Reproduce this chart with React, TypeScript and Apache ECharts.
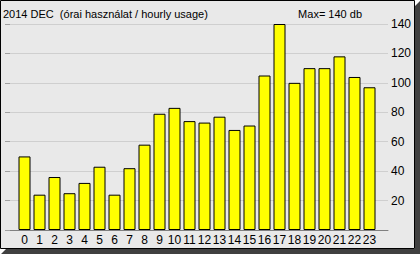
import React, { useEffect, useRef } from "react";
import * as echarts from "echarts";

const hours = ["0","1","2","3","4","5","6","7","8","9","10","11","12","13","14","15","16","17","18","19","20","21","22","23"];
const usage = [50, 24, 36, 25, 32, 43, 24, 42, 58, 79, 83, 74, 73, 77, 68, 71, 105, 140, 100, 110, 110, 118, 104, 97];
const titleText = "2014 DEC  (órai használat / hourly usage)";
const maxText = "Max= 140 db";
const yTicks = [20, 40, 60, 80, 100, 120, 140];

const FONT = "Liberation Sans, Arial, sans-serif";

export default function App() {
  const ref = useRef<HTMLDivElement>(null);
  useEffect(() => {
    if (!ref.current) return;
    const chart = echarts.init(ref.current, null, { renderer: "svg" });
    chart.setOption({
      animation: false,
      backgroundColor: "#ffffff",
      textStyle: { fontFamily: FONT },
      graphic: [
        {
          type: "polygon",
          z: -20,
          silent: true,
          shape: { points: [[415, 6], [420, 1], [420, 254], [1, 254], [6, 249], [415, 249]] },
          style: { fill: "#404040" },
        },
        {
          type: "rect",
          z: -10,
          silent: true,
          shape: { x: 0.5, y: 0.5, width: 414, height: 248 },
          style: { fill: "#e9e9e9", stroke: "#000000", lineWidth: 1 },
        },
      ],
      title: [
        {
          text: titleText,
          left: 3,
          top: 8,
          padding: 0,
          textStyle: { fontSize: 11, fontWeight: "normal", color: "#000", fontFamily: FONT },
        },
        {
          text: maxText,
          right: 58,
          top: 8,
          padding: 0,
          textStyle: { fontSize: 11, fontWeight: "normal", color: "#000", fontFamily: FONT },
        },
      ],
      grid: [
        { left: 17, width: 360, top: 24, bottom: 24 },
        { left: 10, right: 32, top: 24, bottom: 24 },
      ],
      xAxis: [
        {
          type: "category",
          gridIndex: 0,
          data: hours,
          axisLine: { show: false },
          axisTick: { show: false },
          axisLabel: { color: "#000", fontSize: 12, margin: 4, interval: 0, fontFamily: FONT },
        },
        {
          type: "value",
          gridIndex: 1,
          min: 0,
          max: 1,
          axisLine: { show: true, lineStyle: { color: "#808080", width: 1 } },
          axisTick: { show: false },
          axisLabel: { show: false },
          splitLine: { show: false },
        },
      ],
      yAxis: [
        {
          type: "value",
          gridIndex: 0,
          min: 0,
          max: 140,
          show: false,
        },
        {
          type: "value",
          gridIndex: 1,
          position: "right",
          min: 0,
          max: 140,
          interval: 20,
          axisLine: { show: false },
          axisTick: { show: true, inside: true, length: 5, lineStyle: { color: "#a0a0a0" } },
          splitLine: { show: true, lineStyle: { color: "#cfcfcf", width: 1 } },
          axisLabel: {
            color: "#000",
            fontSize: 12,
            margin: 3,
            fontFamily: FONT,
            formatter: (v: number) => (yTicks.includes(v) ? String(v) : ""),
          },
        },
      ],
      series: [
        {
          type: "bar",
          xAxisIndex: 0,
          yAxisIndex: 0,
          data: usage,
          barWidth: 12,
          z: 5,
          itemStyle: { color: "#ffff00", borderColor: "#000000", borderWidth: 1 },
        },
      ],
    });
    return () => chart.dispose();
  }, []);
  return (
    <div
      ref={ref}
      style={{ position: "absolute", left: 0, top: 0, width: 420, height: 254 }}
    />
  );
}
